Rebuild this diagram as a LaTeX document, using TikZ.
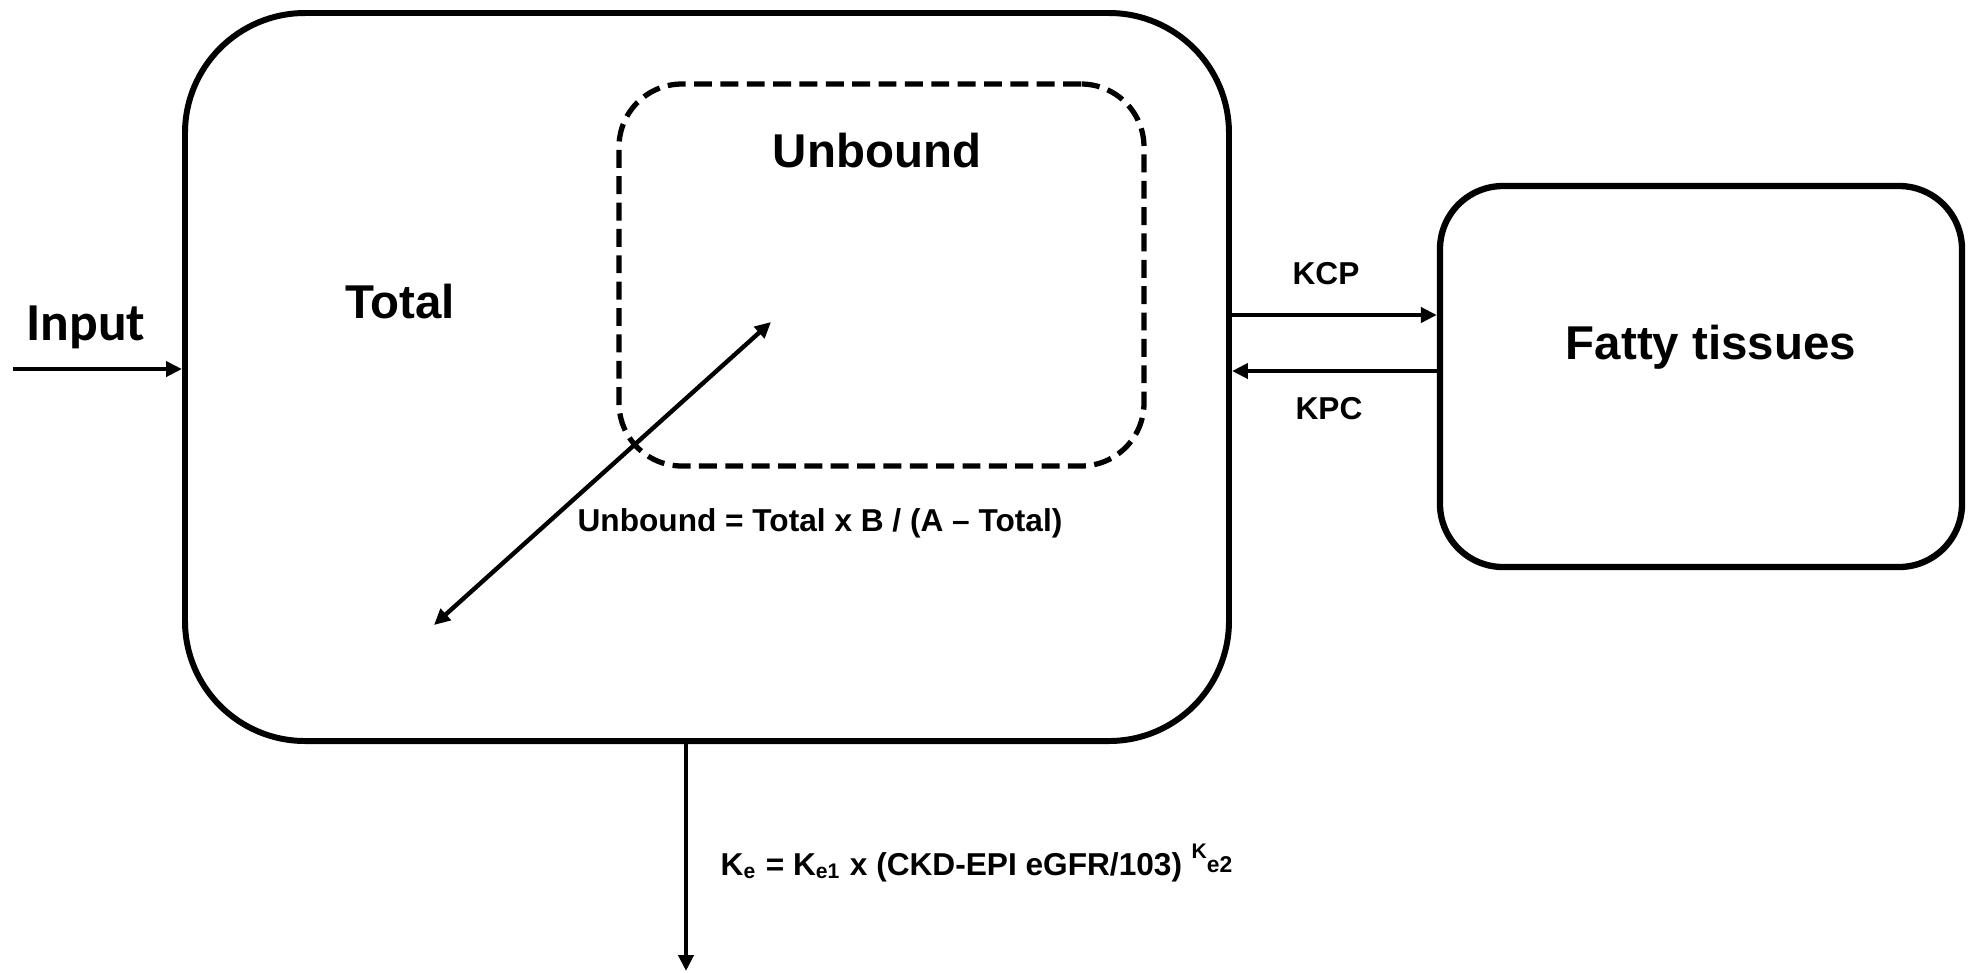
\documentclass[tikz,border=0pt]{standalone}
\usepackage{fontspec}
\setmainfont{Liberation Sans}
\newfontfamily\inputfont{Carlito}
\usetikzlibrary{arrows.meta,positioning,calc}
\tikzset{
  compartment/.style={draw=black, line width=1.7pt, rounded corners=12mm,
    minimum width=10.44cm, minimum height=7.28cm},
  fatbox/.style={draw=black, line width=1.8pt, rounded corners=6.3mm,
    minimum width=5.22cm, minimum height=3.81cm},
  freebox/.style={draw=black, line width=1.5pt, dash pattern=on 5.1pt off 2.4pt,
    rounded corners=6.3mm, minimum width=5.25cm, minimum height=3.82cm},
  bigtext/.style={font=\fontsize{13.5}{16}\selectfont\bfseries, inner sep=0pt},
  ratetext/.style={font=\fontsize{9}{11}\selectfont\bfseries, inner sep=0pt},
  wire/.style={-{Triangle[length=1.6mm, width=1.5mm]}, line width=1.25pt},
  twowire/.style={{Triangle[length=1.6mm, width=1.5mm]}-{Triangle[length=1.6mm, width=1.5mm]}, line width=1.25pt}
}
\begin{document}
\begin{tikzpicture}
  \useasboundingbox (0,0) rectangle (19.73,-9.72);
  % compartments
  \node[compartment] (central) at (7.07,-3.77) {};
  \node[freebox] (unbound) at (8.815,-2.75) {};
  \node[fatbox] (fat) at (17.01,-3.765) {};
  % labels
  \node[bigtext] (totallbl) at (4.00,-3.02) {Total};
  \node[bigtext] (unboundlbl) at (8.77,-1.51) {Unbound};
  \node[bigtext] (fatlbl) at (17.11,-3.47) {Fatty tissues};
  \node[font=\inputfont\fontsize{15.2}{18}\selectfont\bfseries, inner sep=0pt] (inputlbl) at (0.86,-3.27) {Input};
  \node[ratetext] (kcp) at (13.26,-2.74) {KCP};
  \node[ratetext] (kpc) at (13.29,-4.09) {KPC};
  \node[ratetext] (binding) at (8.20,-5.23) {Unbound = Total x B / (A -- Total)};
  \node[font=\fontsize{9}{11}\selectfont\bfseries, inner sep=0pt, anchor=base west] (elim) at (7.20,-8.75)
    {K\textsubscript{e} = K\textsubscript{e1} x (CKD-EPI eGFR/103)\hspace{0.3em}\raisebox{4.8pt}{\fontsize{6}{7}\selectfont K}\raisebox{0.8pt}{\fontsize{6.5}{7}\selectfont e2}};
  % flows
  \coordinate (dose) at (0.13,-3.69);
  \coordinate (cp) at (0,-3.15);
  \coordinate (pc) at (0,-3.71);
  \coordinate (bound) at (4.34,-6.25);
  \coordinate (free) at (7.71,-3.22);
  \coordinate (out) at (6.86,-9.71);
  \draw[wire] (dose) -- (dose -| central.west);
  \draw[wire] (central.east |- cp) -- (fat.west |- cp);
  \draw[wire] (fat.west |- pc) -- (central.east |- pc);
  \draw[twowire] (bound) -- (free);
  \draw[wire] (central.south -| out) -- (out);
\end{tikzpicture}
\end{document}
